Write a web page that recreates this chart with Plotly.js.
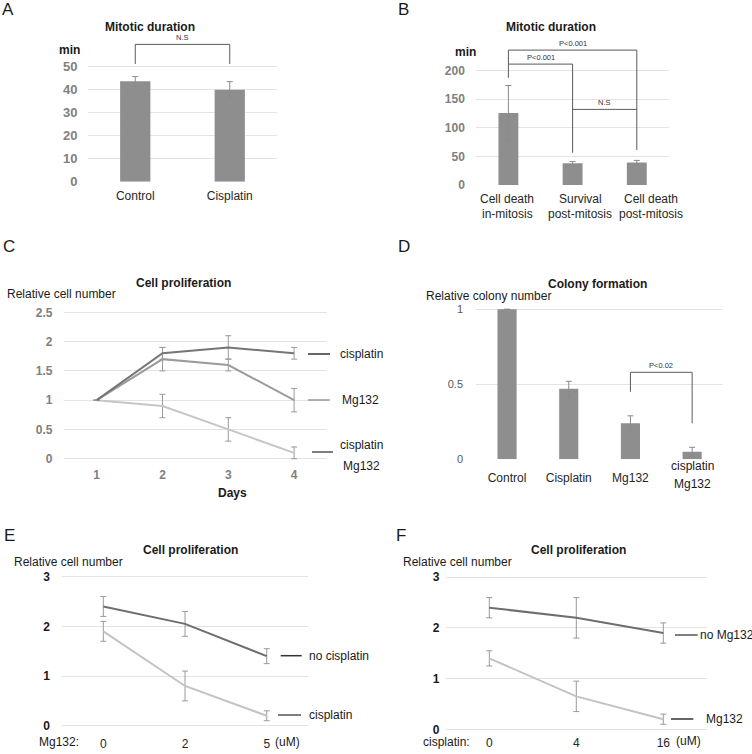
<!DOCTYPE html>
<html><head><meta charset="utf-8">
<script src="https://cdn.plot.ly/plotly-3.0.1.min.js"></script>
<style>html,body{margin:0;padding:0;background:#fff}#chart{width:752px;height:754px}</style>
</head><body><div id="chart"></div>
<script>
// ---------------- DATA ----------------
const catsA = ['Control', 'Cisplatin'];
const valsA = [43.7, 40];
const errA = [2, 3.5];

const catsB = ['Cell death<br>in-mitosis', 'Survival<br>post-mitosis', 'Cell death<br>post-mitosis'];
const valsB = [126, 38, 39.5];
const errB = [48, 3, 3.5];

const daysC = [1, 2, 3, 4];
const cisC = [1, 1.8, 1.9, 1.8];
const errCisC = [null, 0.1, 0.2, 0.1];
const mgC = [1, 1.7, 1.6, 1.0];
const errMgC = [null, 0.2, 0.1, 0.2];
const bothC = [1, 0.9, 0.5, 0.1];
const errBothC = [null, 0.2, 0.2, 0.1];

const catsD = ['Control', 'Cisplatin', 'Mg132', 'cisplatin Mg132'];
const valsD = [1, 0.47, 0.24, 0.05];
const errD = [null, 0.05, 0.05, 0.03];

const doseE = ['0', '2', '5'];
const noCisE = [2.4, 2.05, 1.4];
const errNoCisE = [0.2, 0.25, 0.15];
const cisE = [1.9, 0.8, 0.2];
const errCisE = [0.2, 0.3, 0.1];

const doseF = ['0', '4', '16'];
const noMgF = [2.4, 2.2, 1.9];
const errNoMgF = [0.2, 0.4, 0.2];
const mgF = [1.4, 0.65, 0.2];
const errMgF = [0.15, 0.3, 0.1];

// significance brackets: start/end category index, top, left/right leg ends, label
const brA = {from: [0], to: [1], top: [59.7], left: [51.2], right: [51.2], label: ['N.S']};
const brB = {from: [0, 0, 1], to: [2, 1, 2], top: [236, 211.5, 132.3],
             left: [211.5, 187.6, 132.3], right: [61.2, 56.5, 132.3],
             label: ['P<0.001', 'P<0.001', 'N.S']};
const brD = {from: [2], to: [3], top: [0.58], left: [0.45], right: [0.24], label: ['P<0.02']};

// ---------------- LAYOUT HELPERS ----------------
const W = 752, H = 754;
const px = x => x / W;
const py = y => 1 - y / H;
const FONT = 'Liberation Sans, Arial, sans-serif';
const ydom = (zero, ppu, r) => [py(zero - r[0] * ppu), py(zero - r[1] * ppu)];
const BAR = '#8e8e8e', ERR = '#8a8a8a', GRID = '#e3e3e3', BR = '#5a5a5a';

function yax(dom, range, tickvals, ticklen, font, anchor) {
  return {domain: dom, range: range, tickvals: tickvals, anchor: anchor,
    showgrid: true, gridcolor: GRID, gridwidth: 1, zeroline: false, showline: false,
    ticks: 'outside', ticklen: ticklen, tickcolor: 'rgba(0,0,0,0)', tickfont: font, fixedrange: true};
}
function xax(dom, range, type, ticklen, font, anchor, extra) {
  return Object.assign({domain: dom, range: range, type: type, anchor: anchor, tickangle: 0,
    showgrid: false, zeroline: false, showline: false,
    ticks: 'outside', ticklen: ticklen, tickcolor: 'rgba(0,0,0,0)', tickfont: font, fixedrange: true}, extra || {});
}
const errObj = (arr, c) => ({type: 'data', array: arr, visible: true, color: c || ERR, thickness: 1, width: 3});

const traces = [];
traces.push({type: 'bar', x: catsA, y: valsA, xaxis: 'x', yaxis: 'y', width: 0.32,
  marker: {color: BAR}, error_y: errObj(errA), hoverinfo: 'none'});
traces.push({type: 'bar', x: catsB, y: valsB, xaxis: 'x2', yaxis: 'y2', width: 0.31,
  marker: {color: BAR}, error_y: errObj(errB), hoverinfo: 'none'});
traces.push({type: 'scatter', mode: 'lines', x: daysC, y: bothC, xaxis: 'x3', yaxis: 'y3',
  line: {color: '#c6c6c6', width: 2}, error_y: errObj(errBothC, '#9a9a9a'), hoverinfo: 'none'});
traces.push({type: 'scatter', mode: 'lines', x: daysC, y: mgC, xaxis: 'x3', yaxis: 'y3',
  line: {color: '#9c9c9c', width: 2}, error_y: errObj(errMgC, '#9a9a9a'), hoverinfo: 'none'});
traces.push({type: 'scatter', mode: 'lines', x: daysC, y: cisC, xaxis: 'x3', yaxis: 'y3',
  line: {color: '#767676', width: 2}, error_y: errObj(errCisC, '#9a9a9a'), hoverinfo: 'none'});
traces.push({type: 'bar', x: catsD, y: valsD, xaxis: 'x4', yaxis: 'y4', width: 0.31,
  marker: {color: BAR}, error_y: errObj(errD), hoverinfo: 'none'});
traces.push({type: 'scatter', mode: 'lines', x: doseE, y: cisE, xaxis: 'x5', yaxis: 'y5',
  line: {color: '#c3c3c3', width: 2}, error_y: errObj(errCisE, '#9a9a9a'), hoverinfo: 'none'});
traces.push({type: 'scatter', mode: 'lines', x: doseE, y: noCisE, xaxis: 'x5', yaxis: 'y5',
  line: {color: '#6e6e6e', width: 2}, error_y: errObj(errNoCisE, '#9a9a9a'), hoverinfo: 'none'});
traces.push({type: 'scatter', mode: 'lines', x: doseF, y: mgF, xaxis: 'x6', yaxis: 'y6',
  line: {color: '#c3c3c3', width: 2}, error_y: errObj(errMgF, '#9a9a9a'), hoverinfo: 'none'});
traces.push({type: 'scatter', mode: 'lines', x: doseF, y: noMgF, xaxis: 'x6', yaxis: 'y6',
  line: {color: '#6e6e6e', width: 2}, error_y: errObj(errNoMgF, '#9a9a9a'), hoverinfo: 'none'});

const grayBold = (s) => ({family: FONT, size: s, color: '#808080', weight: 'bold'});
const blackReg = (s) => ({family: FONT, size: s, color: '#262626'});
const blackBold = (s) => ({family: FONT, size: s, color: '#1a1a1a', weight: 'bold'});

const rA = [0, 62], rB = [0, 245], rC = [-0.05, 2.6], rD = [0, 1.05], rE = [-0.03, 3.1], rF = [-0.03, 3.1];

const layout = {
  width: W, height: H, margin: {l: 0, r: 0, t: 0, b: 0},
  paper_bgcolor: '#fff', plot_bgcolor: 'rgba(0,0,0,0)', showlegend: false,
  font: {family: FONT},
  xaxis: xax([px(88), px(277)], [-0.5, 1.5], 'category', 3, blackReg(12), 'y'),
  yaxis: yax(ydom(181.7, 2.3, rA), rA, [0, 10, 20, 30, 40, 50], 7, grayBold(13), 'x'),
  xaxis2: xax([px(476.3), px(668.9)], [-0.5, 2.5], 'category', 4, blackReg(12), 'y2', {showticklabels: false}),
  yaxis2: yax(ydom(185, 0.5716, rB), rB, [0, 50, 100, 150, 200], 8, grayBold(12), 'x2'),
  xaxis3: xax([px(63.8), px(327)], [0.5, 4.5], 'linear', 2, grayBold(12), 'y3', {tickvals: daysC}),
  yaxis3: yax(ydom(458.7, 58.56, rC), rC, [0, 0.5, 1, 1.5, 2, 2.5], 8, grayBold(12), 'x3'),
  xaxis4: xax([px(476.2), px(723)], [-0.5, 3.5], 'category', 7, blackReg(12), 'y4',
    {tickvals: catsD, ticktext: [catsD[0], catsD[1], catsD[2], ' ']}),
  yaxis4: yax(ydom(459.3, 150, rD), rD, [0, 0.5, 1], 10, {family: FONT, size: 11, color: '#595959'}, 'x4'),
  xaxis5: xax([px(62.45), px(307.6)], [-0.5, 2.5], 'category', 5, blackReg(12), 'y5'),
  yaxis5: yax(ydom(725.7, 49.67, rE), rE, [0, 1, 2, 3], 9, blackBold(12), 'x5'),
  xaxis6: xax([px(445.8), px(706.8)], [-0.5, 2.5], 'category', 1, blackReg(12), 'y6'),
  yaxis6: yax(ydom(729.3, 50.67, rF), rF, [0, 1, 2, 3], 3, blackBold(12), 'x6'),
  shapes: [], annotations: []
};

function addBrackets(br, xr, yr) {
  for (let i = 0; i < br.from.length; i++) {
    const ln = {color: BR, width: 1};
    layout.shapes.push({type: 'line', xref: xr, yref: yr, x0: br.from[i], x1: br.from[i], y0: br.left[i], y1: br.top[i], line: ln});
    layout.shapes.push({type: 'line', xref: xr, yref: yr, x0: br.from[i], x1: br.to[i], y0: br.top[i], y1: br.top[i], line: ln});
    layout.shapes.push({type: 'line', xref: xr, yref: yr, x0: br.to[i], x1: br.to[i], y0: br.top[i], y1: br.right[i], line: ln});
    layout.annotations.push({xref: xr, yref: yr, x: (br.from[i] + br.to[i]) / 2, y: br.top[i],
      text: br.label[i], showarrow: false, yanchor: 'bottom', xanchor: 'center', yshift: 0,
      font: {family: FONT, size: 7.5, color: '#333'}});
  }
}
addBrackets(brA, 'x', 'y');
addBrackets(brB, 'x2', 'y2');
addBrackets(brD, 'x4', 'y4');

function txt(t, cx, cy, size, opts) {
  layout.annotations.push(Object.assign({xref: 'paper', yref: 'paper', x: px(cx), y: py(cy), text: t,
    showarrow: false, xanchor: 'center', yanchor: 'middle',
    font: {family: FONT, size: size, color: '#1a1a1a'}}, opts || {}));
}
function legLine(x0, x1, y, color) {
  layout.shapes.push({type: 'line', xref: 'paper', yref: 'paper', x0: px(x0), x1: px(x1), y0: py(y), y1: py(y),
    line: {color: color, width: 1.5}});
}

// B category labels (spread slightly wider than the bars, as in the original)
const bLabelX = [507.5, 580, 650.5];
catsB.forEach((c, i) => {
  const parts = c.split('<br>');
  txt(parts[0], bLabelX[i], 198.5, 12, {font: {family: FONT, size: 12, color: '#262626'}});
  txt(parts[1], bLabelX[i], 213.5, 12, {font: {family: FONT, size: 12, color: '#262626'}});
});

// panel letters
txt('A', 8, 9, 17); txt('B', 403.5, 9, 17); txt('C', 9.2, 246.5, 17);
txt('D', 403.5, 246, 17); txt('E', 9.2, 535, 17); txt('F', 401, 535, 17);
// titles
txt('<b>Mitotic duration</b>', 150, 27, 12);
txt('<b>Mitotic duration</b>', 551, 27, 12);
txt('<b>Cell proliferation</b>', 183, 283.3, 12);
txt('<b>Colony formation</b>', 597.7, 284, 12);
txt('<b>Cell proliferation</b>', 190, 550, 12);
txt('<b>Cell proliferation</b>', 578.3, 550, 12);
// axis captions
txt('<b>min</b>', 69.7, 50, 12);
txt('<b>min</b>', 465.5, 52.3, 12);
txt('Relative cell number', 61.7, 294.3, 12);
txt('Relative colony number', 488, 296, 12);
txt('Relative cell number', 68.3, 561.7, 12);
txt('Relative cell number', 457.2, 561.7, 12);
txt('<b>Days</b>', 232, 493, 12);
txt('Mg132:', 59, 741.7, 12);
txt('(uM)', 287.5, 741.7, 12);
txt('cisplatin:', 446.5, 742, 12);
txt('(uM)', 688.5, 741, 12);
// D last category label (two lines)
txt('cisplatin', 692.2, 466, 12);
txt('Mg132', 692.2, 484, 12);

// C legend
legLine(308, 330, 354, '#333'); txt('cisplatin', 338, 354, 12, {xanchor: 'left'});
legLine(308, 330, 400, '#999'); txt('Mg132', 340, 400, 12, {xanchor: 'left'});
legLine(312, 333, 452, '#555'); txt('cisplatin', 361, 445, 12); txt('Mg132', 361, 466, 12);
// E legend
legLine(280.7, 301.7, 655.7, '#333'); txt('no cisplatin', 306.7, 655.7, 12, {xanchor: 'left'});
legLine(278, 301, 715, '#555'); txt('cisplatin', 307, 715, 12, {xanchor: 'left'});
// F legend
legLine(675, 697.7, 635, '#555'); txt('no Mg132', 697.7, 635, 12, {xanchor: 'left'});
legLine(671, 693.3, 719, '#333'); txt('Mg132', 704.3, 719, 12, {xanchor: 'left'});

Plotly.newPlot('chart', traces, layout, {staticPlot: true, displayModeBar: false});
</script></body></html>
